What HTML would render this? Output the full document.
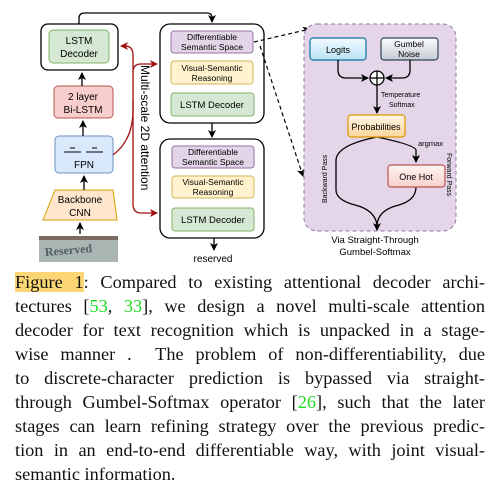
<!DOCTYPE html>
<html><head><meta charset="utf-8"><style>
body{margin:0;background:#fff;width:495px;height:491px;overflow:hidden;position:relative}
svg{position:absolute;left:0;top:0}
#cap{position:absolute;left:15px;top:270px;width:470px;font-family:"Liberation Serif",serif;font-size:18.3px;line-height:24px;text-align:justify;color:#111}
#cap .l{display:block;text-align:justify;text-align-last:justify;height:24px;white-space:nowrap}
#cap .last{text-align-last:left}
.g{color:#22dd22}
.hl{background:#fcd574}
</style></head><body>
<svg width="495" height="270" viewBox="0 0 495 270" font-family="Liberation Sans,sans-serif">
<defs>
<marker id="a" markerWidth="8" markerHeight="8" refX="7" refY="4" orient="auto" markerUnits="userSpaceOnUse"><path d="M0,0 L8,4 L0,8 L2,4z" fill="#000"/></marker>
<marker id="r" markerWidth="8" markerHeight="8" refX="7" refY="4" orient="auto" markerUnits="userSpaceOnUse"><path d="M0,0 L8,4 L0,8 L2,4z" fill="#a01010"/></marker>
<linearGradient id="lg" x1="0" y1="0" x2="0" y2="1"><stop offset="0" stop-color="#f4fbff"/><stop offset="1" stop-color="#b8e2f4"/></linearGradient>
<linearGradient id="gg" x1="0" y1="0" x2="0" y2="1"><stop offset="0" stop-color="#fbfcfd"/><stop offset="1" stop-color="#c4ccd4"/></linearGradient>
<linearGradient id="pg" x1="0" y1="0" x2="0" y2="1"><stop offset="0" stop-color="#fff6e6"/><stop offset="1" stop-color="#fcd49c"/></linearGradient>
<linearGradient id="og" x1="0" y1="0" x2="0" y2="1"><stop offset="0" stop-color="#fff4f2"/><stop offset="1" stop-color="#f8d0cc"/></linearGradient>
</defs>
<!-- left column -->
<rect x="41" y="24" width="77" height="46" rx="7" fill="#fff" stroke="#000" stroke-width="1.3"/>
<rect x="49" y="30" width="60" height="33" rx="4" fill="#d5e8d4" stroke="#82b366"/>
<text x="79" y="44" font-size="10" text-anchor="middle">LSTM</text>
<text x="79" y="57" font-size="10" text-anchor="middle">Decoder</text>
<rect x="54" y="86" width="59" height="32" rx="4" fill="#f8cecc" stroke="#b85450"/>
<text x="83" y="100" font-size="10" text-anchor="middle">2 layer</text>
<text x="83" y="113" font-size="10" text-anchor="middle">Bi-LSTM</text>
<rect x="55" y="136" width="58" height="37" rx="4" fill="#dae8fc" stroke="#6c8ebf"/>
<g stroke="#000" stroke-width="1"><line x1="64" y1="152" x2="81" y2="152"/><line x1="70" y1="148" x2="75" y2="148"/><line x1="86" y1="152" x2="103" y2="152"/><line x1="92" y1="148" x2="97" y2="148"/></g>
<text x="84" y="168" font-size="10" text-anchor="middle">FPN</text>
<path d="M55,190 L113,190 L117,220 L43,220 Z" fill="#ffe6cc" stroke="#d6a000"/>
<text x="80" y="203" font-size="10" text-anchor="middle">Backbone</text>
<text x="80" y="216" font-size="10" text-anchor="middle">CNN</text>
<rect x="39" y="236" width="79" height="26" fill="#aab5b4"/>
<rect x="39" y="236" width="79" height="4" fill="#7a6a60"/>
<text x="45" y="254" font-size="12" font-weight="bold" fill="#506060" font-family="Liberation Serif,serif" transform="rotate(-5 70 252)">Reserved</text>
<g stroke="#000" stroke-width="1.3" fill="none">
<line x1="80" y1="234" x2="80" y2="223" marker-end="url(#a)"/>
<line x1="84" y1="190" x2="84" y2="176" marker-end="url(#a)"/>
<line x1="83" y1="136" x2="83" y2="121" marker-end="url(#a)"/>
<line x1="82" y1="86" x2="82" y2="73" marker-end="url(#a)"/>
<path d="M79,24 L79,18 Q79,13 85,13 L207,13 Q212,13 212,18 L212,22" marker-end="url(#a)"/>
</g>
<!-- red attention -->
<g stroke="#a01010" stroke-width="1.3" fill="none">
<path d="M113,155 Q133,140 133,110 L133,55 Q133,46 125,46 L121,46" marker-end="url(#r)"/>
<path d="M133,72 Q133,64 141,64 L157,64" marker-end="url(#r)"/>
<path d="M133,100 L133,204 Q133,213 141,213 L157,213" marker-end="url(#r)"/>
</g>
<text font-size="12" transform="translate(141,65) rotate(90)">Multi-scale 2D attention</text>
<!-- middle -->
<rect x="160" y="24" width="104" height="99" rx="10" fill="#fff" stroke="#000" stroke-width="1.3"/>
<rect x="171" y="31" width="82" height="22" rx="3" fill="#e1d5e7" stroke="#9673a6"/>
<text x="212" y="40" font-size="8.5" text-anchor="middle">Differentiable</text>
<text x="212" y="50" font-size="8.5" text-anchor="middle">Semantic Space</text>
<rect x="171" y="61" width="82" height="23" rx="3" fill="#fff2cc" stroke="#d6b656"/>
<text x="212" y="71" font-size="8.5" text-anchor="middle">Visual-Semantic</text>
<text x="212" y="81" font-size="8.5" text-anchor="middle">Reasoning</text>
<rect x="171" y="93" width="83" height="23" rx="3" fill="#d5e8d4" stroke="#82b366"/>
<text x="212" y="108" font-size="9.5" text-anchor="middle">LSTM Decoder</text>
<line x1="212" y1="123" x2="212" y2="137" stroke="#000" stroke-width="1.3" marker-end="url(#a)"/>
<rect x="160" y="139" width="104" height="99" rx="10" fill="#fff" stroke="#000" stroke-width="1.3"/>
<rect x="172" y="146" width="82" height="22" rx="3" fill="#e1d5e7" stroke="#9673a6"/>
<text x="213" y="155" font-size="8.5" text-anchor="middle">Differentiable</text>
<text x="213" y="165" font-size="8.5" text-anchor="middle">Semantic Space</text>
<rect x="172" y="176" width="82" height="22" rx="3" fill="#fff2cc" stroke="#d6b656"/>
<text x="213" y="185" font-size="8.5" text-anchor="middle">Visual-Semantic</text>
<text x="213" y="195" font-size="8.5" text-anchor="middle">Reasoning</text>
<rect x="172" y="208" width="82" height="23" rx="3" fill="#d5e8d4" stroke="#82b366"/>
<text x="213" y="223" font-size="9.5" text-anchor="middle">LSTM Decoder</text>
<line x1="214" y1="238" x2="214" y2="250" stroke="#000" stroke-width="1.3" marker-end="url(#a)"/>
<text x="213" y="262" font-size="10" text-anchor="middle">reserved</text>
<!-- dashed -->
<g stroke="#000" stroke-width="1.2" fill="none" stroke-dasharray="4,3">
<line x1="254" y1="42" x2="310" y2="29" marker-end="url(#a)"/>
<line x1="260" y1="46" x2="303" y2="176" marker-end="url(#a)"/>
</g>
<!-- right panel -->
<rect x="304" y="24" width="152" height="207" rx="13" fill="#e4d6e8" stroke="#9673a6" stroke-dasharray="4,3"/>
<rect x="310" y="38" width="56" height="22" rx="3" fill="url(#lg)" stroke="#10739e" stroke-width="1.2"/>
<text x="338" y="53" font-size="9" text-anchor="middle">Logits</text>
<rect x="381" y="38" width="57" height="22" rx="3" fill="url(#gg)" stroke="#314354" stroke-width="1.2"/>
<text x="409" y="47" font-size="8.5" text-anchor="middle">Gumbel</text>
<text x="409" y="57" font-size="8.5" text-anchor="middle">Noise</text>
<g stroke="#000" stroke-width="1.3" fill="none">
<path d="M338,60 L338,70 Q338,78 346,78 L368,78" marker-end="url(#a)"/>
<path d="M410,60 L410,70 Q410,78 402,78 L386,78" marker-end="url(#a)"/>
<circle cx="377" cy="78" r="7" fill="#fff"/>
<line x1="370" y1="78" x2="384" y2="78"/><line x1="377" y1="71" x2="377" y2="85"/>
<line x1="377" y1="85" x2="377" y2="113" marker-end="url(#a)"/>
<path d="M377,137 Q337,145 336,160 L336,190 Q336,200 355,205 Q375,210 377,225 L377,230" marker-end="url(#a)"/>
<path d="M377,137 Q415,145 416,150 L416,162" marker-end="url(#a)"/>
<path d="M416,187 Q416,200 399,205 Q378,210 377,225"/>
</g>
<text x="381" y="97" font-size="7">Temperature</text>
<text x="389" y="107" font-size="7">Softmax</text>
<rect x="348" y="115" width="57" height="22" rx="3" fill="url(#pg)" stroke="#d79b00" stroke-width="1.2"/>
<text x="376" y="130" font-size="9" text-anchor="middle">Probabilities</text>
<text x="418" y="146" font-size="7.5">argmax</text>
<rect x="388" y="165" width="57" height="22" rx="3" fill="url(#og)" stroke="#b85450" stroke-width="1.2"/>
<text x="416" y="180" font-size="9" text-anchor="middle">One Hot</text>
<text font-size="7" transform="translate(327,203) rotate(-90)">Backward Pass</text>
<text font-size="7" transform="translate(447,153) rotate(90)">Forward Pass</text>
<text x="375" y="243" font-size="9.5" text-anchor="middle">Via Straight-Through</text>
<text x="375" y="255" font-size="9.5" text-anchor="middle">Gumbel-Softmax</text>
</svg>
<div id="cap">
<span class="l"><span class="hl">Figure 1</span>: Compared to existing attentional decoder archi-</span>
<span class="l">tectures [<span class="g">53</span>, <span class="g">33</span>], we design a novel multi-scale attention</span>
<span class="l">decoder for text recognition which is unpacked in a stage-</span>
<span class="l">wise manner .&nbsp; The problem of non-differentiability, due</span>
<span class="l">to discrete-character prediction is bypassed via straight-</span>
<span class="l">through Gumbel-Softmax operator [<span class="g">26</span>], such that the later</span>
<span class="l">stages can learn refining strategy over the previous predic-</span>
<span class="l">tion in an end-to-end differentiable way, with joint visual-</span>
<span class="l last">semantic information.</span>
</div>
</body></html>
